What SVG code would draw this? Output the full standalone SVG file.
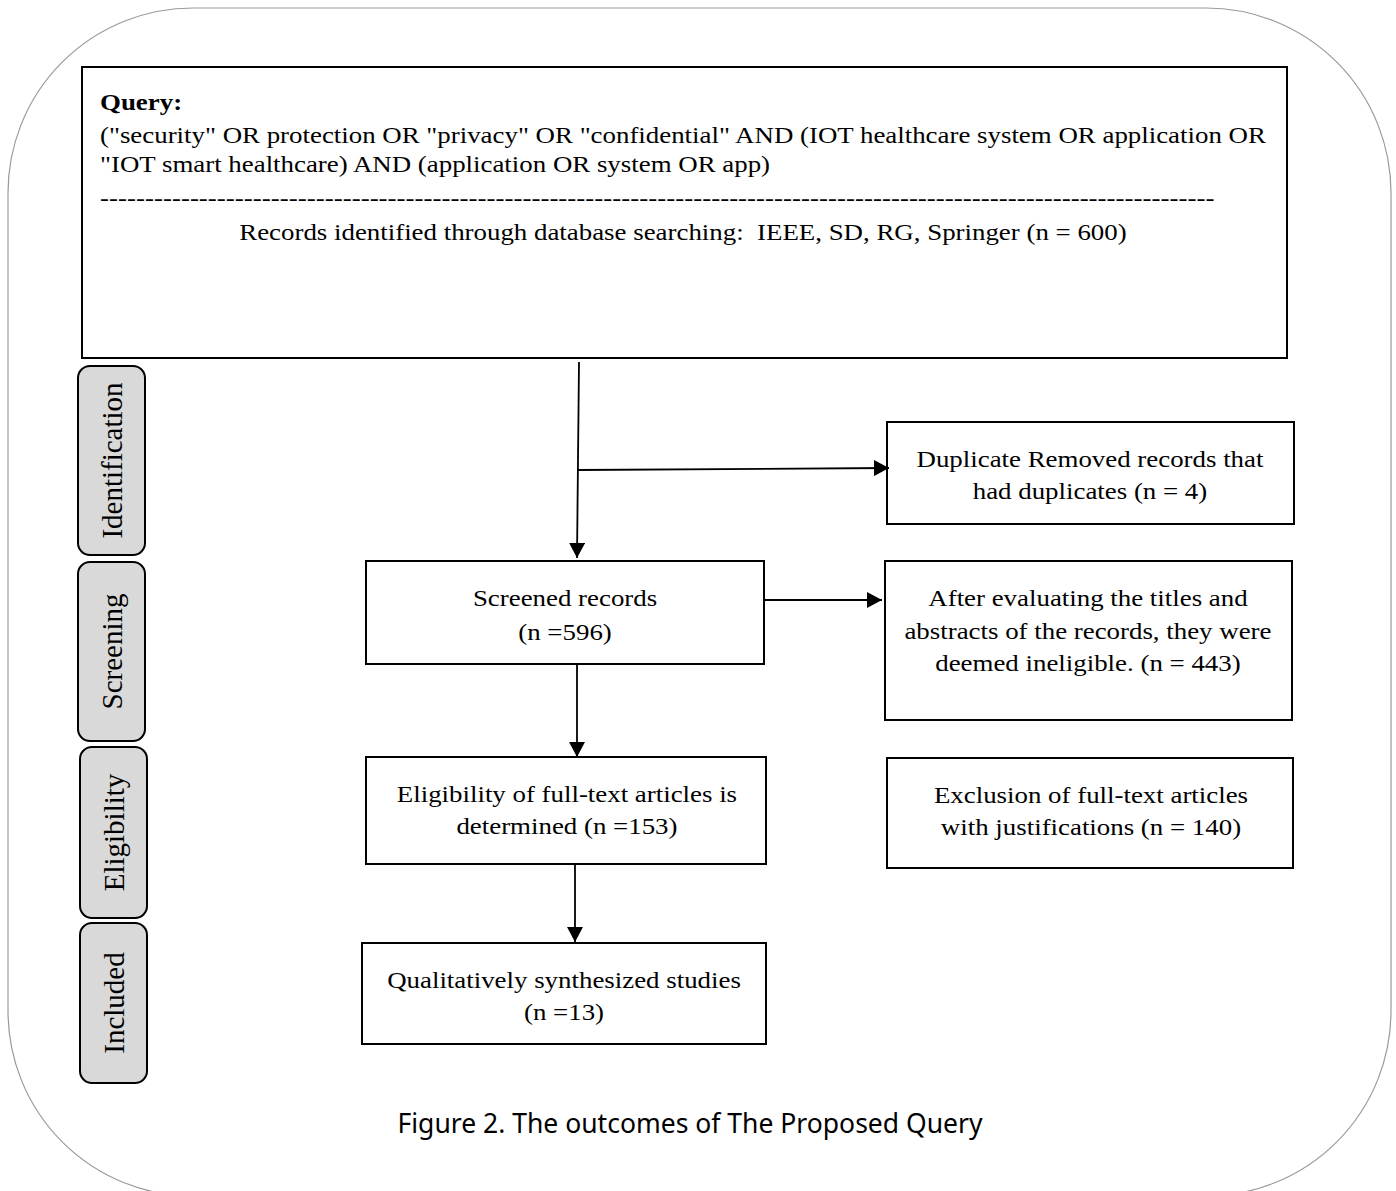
<svg xmlns="http://www.w3.org/2000/svg" width="1396" height="1191" viewBox="0 0 1396 1191">
<defs>
<style>
.t{font-family:"Liberation Serif","Times New Roman",serif;font-size:24px;fill:#000}
.c{text-anchor:middle}
.box{fill:#fff;stroke:#000;stroke-width:2}
.stage{fill:#d9d9d9;stroke:#000;stroke-width:2}
.sl{font-family:"Liberation Serif","Times New Roman",serif;font-size:29px;fill:#000;text-anchor:middle}
.ln{stroke:#000;stroke-width:1.8;fill:none}
</style>
<marker id="ah" viewBox="0 0 15 16" refX="15" refY="8" markerWidth="15" markerHeight="16" markerUnits="userSpaceOnUse" orient="auto">
<path d="M0,0 L15,8 L0,16 Z" fill="#000"/>
</marker>
</defs>
<rect x="8" y="8" width="1383" height="1188" rx="185" ry="185" fill="#fff" stroke="#9a9a9a" stroke-width="1.2"/>

<g id="query">
<rect class="box" x="82" y="67" width="1205" height="291"/>
<g transform="scale(1.12 1)">
<text class="t" x="89.3" y="110" font-weight="bold">Query:</text>
<text class="t" x="89.3" y="143">("security" OR protection OR "privacy" OR "confidential" AND (IOT healthcare system OR application OR</text>
<text class="t" x="89.3" y="172">"IOT smart healthcare) AND (application OR system OR app)</text>
<text class="t" x="89.3" y="206" textLength="995" lengthAdjust="spacing">----------------------------------------------------------------------------------------------------------------------------</text>
<text class="t c" x="609.8" y="240" xml:space="preserve">Records identified through database searching:  IEEE, SD, RG, Springer (n = 600)</text>
</g>
</g>

<g id="stage-identification">
<rect class="stage" x="78" y="366" width="67" height="189" rx="12"/>
<text class="sl" transform="translate(121.5 460.5) rotate(-90)">Identification</text>
</g>
<g id="stage-screening">
<rect class="stage" x="78" y="562" width="67" height="179" rx="12"/>
<text class="sl" transform="translate(121.5 651.5) rotate(-90)">Screening</text>
</g>
<g id="stage-eligibility">
<rect class="stage" x="80" y="747" width="67" height="171" rx="12"/>
<text class="sl" transform="translate(123.5 832.5) rotate(-90)">Eligibility</text>
</g>
<g id="stage-included">
<rect class="stage" x="80" y="923" width="67" height="160" rx="12"/>
<text class="sl" transform="translate(123.5 1003) rotate(-90)">Included</text>
</g>

<g id="duplicates">
<rect class="box" x="887" y="422" width="407" height="102"/>
<g transform="scale(1.12 1)">
<text class="t c" x="973.2" y="467">Duplicate Removed records that</text>
<text class="t c" x="973.2" y="499">had duplicates (n = 4)</text>
</g>
</g>

<g id="screened">
<rect class="box" x="366" y="561" width="398" height="103"/>
<g transform="scale(1.12 1)">
<text class="t c" x="504.5" y="606">Screened records</text>
<text class="t c" x="504.5" y="640">(n =596)</text>
</g>
</g>

<g id="ineligible">
<rect class="box" x="885" y="561" width="407" height="159"/>
<g transform="scale(1.12 1)">
<text class="t c" x="971.4" y="606">After evaluating the titles and</text>
<text class="t c" x="971.4" y="639">abstracts of the records, they were</text>
<text class="t c" x="971.4" y="671">deemed ineligible. (n = 443)</text>
</g>
</g>

<g id="eligibility">
<rect class="box" x="366" y="757" width="400" height="107"/>
<g transform="scale(1.12 1)">
<text class="t c" x="506.2" y="802">Eligibility of full-text articles is</text>
<text class="t c" x="506.2" y="834">determined (n =153)</text>
</g>
</g>

<g id="exclusion">
<rect class="box" x="887" y="758" width="406" height="110"/>
<g transform="scale(1.12 1)">
<text class="t c" x="974.1" y="803">Exclusion of full-text articles</text>
<text class="t c" x="974.1" y="835">with justifications (n = 140)</text>
</g>
</g>

<g id="included">
<rect class="box" x="362" y="943" width="404" height="101"/>
<g transform="scale(1.12 1)">
<text class="t c" x="503.6" y="988">Qualitatively synthesized studies</text>
<text class="t c" x="503.6" y="1020">(n =13)</text>
</g>
</g>

<g id="connectors">
<line class="ln" x1="579" y1="362" x2="577" y2="558" marker-end="url(#ah)"/>
<line class="ln" x1="578" y1="470" x2="889" y2="468" marker-end="url(#ah)"/>
<line class="ln" x1="764" y1="600" x2="882" y2="600" marker-end="url(#ah)"/>
<line class="ln" x1="577" y1="664" x2="577" y2="757" marker-end="url(#ah)"/>
<line class="ln" x1="575" y1="864" x2="575" y2="942" marker-end="url(#ah)"/>
</g>

<text x="690" y="1133" font-family="'Noto Sans','Open Sans',sans-serif" font-size="27" text-anchor="middle" textLength="585" lengthAdjust="spacingAndGlyphs">Figure 2. The outcomes of The Proposed Query</text>
</svg>
